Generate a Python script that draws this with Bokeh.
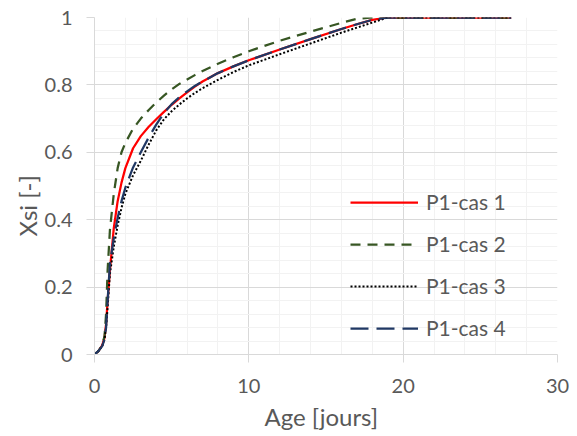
from bokeh.plotting import figure
from bokeh.models import FixedTicker, NumeralTickFormatter, Legend, LegendItem, Title
from bokeh.embed import file_html
from bokeh.resources import INLINE

# ---- data ----
age = [0, 0.25, 0.5, 0.65, 0.75, 0.85, 1.0, 1.25, 1.5, 1.75, 2.0, 2.5, 3.0, 3.5,
       4.0, 4.5, 5.0, 5.5, 6.0, 6.5, 7.0, 8.0, 9.0, 10.0, 12.0, 14.0, 16.0, 17.0,
       18.0, 19.0, 20.0, 22.0, 24.0, 27.0]
cas1 = [0, 0.01, 0.027, 0.05, 0.09, 0.16, 0.25, 0.375, 0.455, 0.51, 0.553, 0.612,
        0.648, 0.675, 0.698, 0.72, 0.741, 0.76, 0.778, 0.795, 0.81, 0.835, 0.855,
        0.873, 0.905, 0.936, 0.966, 0.98, 0.993, 1, 1, 1, 1, 1]
cas2 = [0, 0.01, 0.027, 0.055, 0.12, 0.25, 0.37, 0.477, 0.553, 0.6, 0.628, 0.67,
        0.70, 0.725, 0.748, 0.768, 0.787, 0.803, 0.816, 0.829, 0.841, 0.863, 0.882,
        0.9, 0.931, 0.958, 0.984, 0.996, 1, 1, 1, 1, 1, 1]
cas3 = [0, 0.01, 0.025, 0.045, 0.08, 0.14, 0.24, 0.32, 0.383, 0.435, 0.477, 0.532,
        0.575, 0.622, 0.665, 0.698, 0.722, 0.742, 0.76, 0.776, 0.79, 0.815, 0.838,
        0.858, 0.891, 0.923, 0.955, 0.97, 0.985, 1, 1, 1, 1, 1]
cas4 = [0, 0.01, 0.025, 0.045, 0.08, 0.16, 0.27, 0.345, 0.405, 0.455, 0.495, 0.555,
        0.60, 0.643, 0.682, 0.716, 0.743, 0.764, 0.781, 0.797, 0.81, 0.835, 0.855,
        0.873, 0.905, 0.936, 0.966, 0.98, 0.993, 1, 1, 1, 1, 1]
series_names = ["P1-cas 1", "P1-cas 2", "P1-cas 3", "P1-cas 4"]
x_ticks = [0, 10, 20, 30]
x_minor = [2, 4, 6, 8, 12, 14, 16, 18, 22, 24, 26, 28]
y_ticks = [0, 0.2, 0.4, 0.6, 0.8, 1.0]
y_minor = [0.04, 0.08, 0.12, 0.16, 0.24, 0.28, 0.32, 0.36, 0.44, 0.48, 0.52, 0.56,
           0.64, 0.68, 0.72, 0.76, 0.84, 0.88, 0.92, 0.96]
x_title = "Age [jours]"
y_title = "Xsi [-]"

FONT = "Lato"
TXT = "#595959"

p = figure(width=576, height=435, output_backend="svg", toolbar_location=None,
           x_range=(0, 30), y_range=(0, 1),
           min_border_left=94, min_border_right=19, min_border_top=17,
           min_border_bottom=81)
p.outline_line_color = None
p.background_fill_color = "white"
p.border_fill_color = "white"

for ax, ticks, minor in ((p.xaxis, x_ticks, x_minor), (p.yaxis, y_ticks, y_minor)):
    ax.ticker = FixedTicker(ticks=ticks, minor_ticks=minor)
    ax.axis_line_color = "#D9D9D9"
    ax.axis_line_width = 1
    ax.major_tick_line_color = "#D9D9D9"
    ax.major_tick_in = 0
    ax.major_tick_out = 8
    ax.minor_tick_line_color = None
    ax.major_label_text_font = FONT
    ax.major_label_text_font_size = "20px"
    ax.major_label_text_color = TXT

p.yaxis.formatter = NumeralTickFormatter(format="0.[0]")
p.xaxis.formatter = NumeralTickFormatter(format="0")
p.yaxis.major_label_standoff = 14
p.xaxis.major_label_standoff = 16

for g in (p.xgrid, p.ygrid):
    g.grid_line_color = "#D9D9D9"
    g.grid_line_width = 1
    g.minor_grid_line_color = "#F2F2F2"
    g.minor_grid_line_width = 1

xt = Title(text=x_title, align="left", offset=170, standoff=8,
           text_font=FONT, text_font_size="24px", text_font_style="normal",
           text_color=TXT)
p.add_layout(xt, "below")
yt = Title(text=y_title, align="left", offset=118, standoff=0,
           text_font=FONT, text_font_size="24px", text_font_style="normal",
           text_color=TXT)
p.add_layout(yt, "left")

r1 = p.line(age, cas1, line_color="#FF0000", line_width=2.25)
r2 = p.line(age, cas2, line_color="#375623", line_width=2.25, line_dash="10 7")
r3 = p.line(age, cas3, line_color="#000000", line_width=2, line_dash="2 2")
r4 = p.line(age, cas4, line_color="#203864", line_width=2.25, line_dash="18 8")

legend = Legend(items=[LegendItem(label=n, renderers=[r]) for n, r in
                       zip(series_names, [r1, r2, r3, r4])],
                location=(256, 14), orientation="vertical",
                glyph_width=68, glyph_height=22, label_height=22, spacing=17,
                label_standoff=8, padding=0, margin=0,
                border_line_color=None, background_fill_alpha=0,
                label_text_font=FONT, label_text_font_size="21px",
                label_text_color=TXT)
p.add_layout(legend)

open("out.html", "w").write(file_html(p, INLINE))
